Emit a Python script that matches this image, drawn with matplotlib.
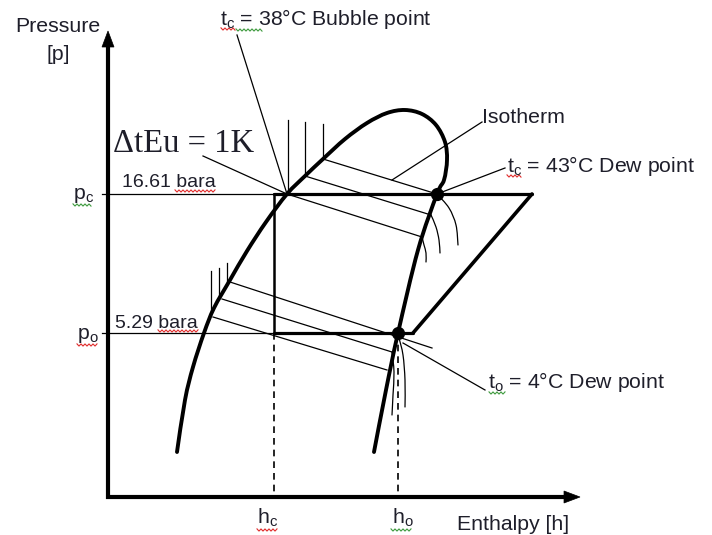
import numpy as np
import matplotlib
matplotlib.use("Agg")
import matplotlib.pyplot as plt
from matplotlib.path import Path
from matplotlib.patches import PathPatch, Polygon

plt.rcParams['font.family'] = ['Liberation Sans', 'DejaVu Sans']
plt.rcParams['mathtext.fontset'] = 'custom'
plt.rcParams['mathtext.rm'] = 'Liberation Sans'
plt.rcParams['mathtext.it'] = 'Liberation Sans:italic'

# ---------------- values of the schematic p-h diagram ----------------
p_c_bar = "16.61"
p_o_bar = "5.29"
t_c_bubble = 38
t_c_dew = 43
t_o_dew = 4
dT_glide = 1

# diagram units (enthalpy to the right, pressure upward; canvas units)
h_axis, p_axis = 108, 497
p_c, p_o = 194, 333
h_c, h_o = 274, 398
h_dew_c, h_bub_c = 437, 287
h_discharge, h_suction = 532, 413

# saturation dome (liquid line -> critical region -> vapour line)
dome_h = [177, 185, 193, 204, 214, 230, 247, 266, 287, 305, 323, 345, 367, 387,
          405, 422, 436, 445, 447, 444, 437, 418, 398, 386, 374]
dome_p = [452, 400, 367, 333, 308, 280, 251, 222, 194, 176, 159, 139, 123, 113,
          110, 114, 125, 142, 160, 180, 194, 250, 333, 390, 452]

# isotherms in the two-phase region (start on liquid line, end on vapour line)
iso_hi_h0 = [323, 305, 287]
iso_hi_p0 = [159, 176, 194]
iso_hi_h1 = [437, 431, 422]
iso_hi_p1 = [194, 215, 237]
# superheated tails of the upper isotherms
tail_hi_h = [[437, 449, 456, 458], [431, 436, 439, 440], [422, 424, 426, 426]]
tail_hi_p = [[194, 208, 225, 245], [215, 227, 240, 253], [237, 245, 253, 262]]

iso_lo_h0 = [230, 222, 213]
iso_lo_p0 = [282, 299, 317]
iso_lo_h1 = [432, 392, 387]
iso_lo_p1 = [348, 352, 370]
tail_lo_h = [[392, 394, 393, 392], [399, 403, 405, 405]]
tail_lo_p = [[352, 372, 395, 415], [338, 355, 380, 407]]

# short vertical hatch marks
hatch_hi_h = [288, 305, 323]
hatch_hi_top = [120, 122, 124]
hatch_hi_bot = [194, 176, 159]
hatch_lo_h = [211, 219, 227]
hatch_lo_top = [271, 268, 263]
hatch_lo_bot = [315, 297, 284]

INK = '#1e1e2a'
RED = '#e02a2a'
GREEN = '#3c9a3c'

fig = plt.figure(figsize=(7.12, 5.35), dpi=100)
ax = fig.add_axes([0, 0, 1, 1])
ax.set_xlim(0, 712)
ax.set_ylim(535, 0)
ax.axis('off')


def smooth(hs, ps):
    pts = np.column_stack([hs, ps]).astype(float)
    ext = np.vstack([pts[0], pts, pts[-1]])
    verts = [tuple(pts[0])]
    codes = [Path.MOVETO]
    for i in range(1, len(ext) - 2):
        p0, p1, p2, p3 = ext[i - 1], ext[i], ext[i + 1], ext[i + 2]
        c1 = p1 + (p2 - p0) / 6.0
        c2 = p2 - (p3 - p1) / 6.0
        verts += [tuple(c1), tuple(c2), tuple(p2)]
        codes += [Path.CURVE4] * 3
    return Path(verts, codes)


def curve(hs, ps, lw, color='black'):
    ax.add_patch(PathPatch(smooth(hs, ps), fill=False, lw=lw, ec=color,
                           capstyle='round', joinstyle='round'))


def squiggle(x0, x1, y, color):
    xs = np.arange(x0, x1 + 0.1, 2.0)
    ys = y + np.where(np.arange(len(xs)) % 2 == 0, -1.1, 1.1)
    ax.plot(xs, ys, color=color, lw=0.8, solid_joinstyle='miter')


THIN = 0.9

# axes with arrows
ax.plot([h_axis, h_axis], [p_axis + 2, 44], color='black', lw=3.0, solid_capstyle='butt')
ax.plot([h_axis - 2, 566], [p_axis, p_axis], color='black', lw=3.0, solid_capstyle='butt')
ax.add_patch(Polygon([[h_axis, 31], [h_axis - 6, 47], [h_axis + 6, 47]], closed=True,
                     fc='black', ec='black', lw=0.5))
ax.add_patch(Polygon([[580, p_axis], [564, p_axis - 6], [564, p_axis + 6]], closed=True,
                     fc='black', ec='black', lw=0.5))

# pressure lines (thin part from axis) and cycle
ax.plot([h_axis - 6, h_c], [p_c, p_c], color='black', lw=THIN)
ax.plot([h_axis - 6, h_c], [p_o, p_o], color='black', lw=THIN)
ax.plot([h_c, h_discharge], [p_c, p_c], color='black', lw=2.3, solid_capstyle='round')
ax.plot([h_c, h_suction], [p_o, p_o], color='black', lw=2.3, solid_capstyle='round')
ax.plot([h_suction, h_discharge], [p_o, p_c], color='black', lw=2.6, solid_capstyle='round')
ax.plot([h_c, h_c], [p_c, p_o], color='black', lw=1.8)
ax.plot([h_c, h_c], [p_o, p_axis], color='black', lw=1.2, ls=(0, (4, 3)))
ax.plot([h_o, h_o], [p_o, p_axis], color='black', lw=1.2, ls=(0, (4, 3)))

# isotherms
for a, b, c, d in zip(iso_hi_h0, iso_hi_p0, iso_hi_h1, iso_hi_p1):
    ax.plot([a, c], [b, d], color='black', lw=THIN)
for hs, ps in zip(tail_hi_h, tail_hi_p):
    curve(hs, ps, THIN)
for a, b, c, d in zip(iso_lo_h0, iso_lo_p0, iso_lo_h1, iso_lo_p1):
    ax.plot([a, c], [b, d], color='black', lw=THIN)
for hs, ps in zip(tail_lo_h, tail_lo_p):
    curve(hs, ps, THIN)

# hatch marks
for h, t, b in zip(hatch_hi_h, hatch_hi_top, hatch_hi_bot):
    ax.plot([h, h], [t, b], color='black', lw=THIN)
for h, t, b in zip(hatch_lo_h, hatch_lo_top, hatch_lo_bot):
    ax.plot([h, h], [t, b], color='black', lw=THIN)

# saturation dome
curve(dome_h, dome_p, 2.8)

# leader lines
ax.plot([237, h_bub_c], [35, p_c], color='black', lw=THIN)
ax.plot([203, h_bub_c], [156, p_c], color='black', lw=THIN)
ax.plot([392, 482], [180, 122], color='black', lw=THIN)
ax.plot([h_dew_c, 505], [p_c, 168], color='black', lw=THIN)
ax.plot([403, 485], [343, 390], color='black', lw=THIN)

# dew points
ax.plot([h_dew_c, h_o], [p_c, p_o], 'o', color='black', ms=8.5)

# texts
FS = 15.3
FSB = 14
ax.text(58, 32, 'Pressure', fontsize=FS, color=INK, ha='center', va='baseline')
ax.text(58, 60, '[p]', fontsize=FS, color=INK, ha='center', va='baseline')
ax.text(220, 25, r'$\mathregular{t_c}$' + f' = {t_c_bubble}°C Bubble point',
        fontsize=FS, color=INK, va='baseline')
ax.text(113, 152, f'ΔtEu = {dT_glide}K', fontsize=23.5, color=INK, va='baseline',
        family=['Liberation Serif', 'DejaVu Serif'])
ax.text(122, 187, f'{p_c_bar} bara', fontsize=FSB, color=INK, va='baseline')
ax.text(115, 328, f'{p_o_bar} bara', fontsize=FSB, color=INK, va='baseline')
ax.text(73, 199, r'$\mathregular{p_c}$', fontsize=FS, color=INK, va='baseline')
ax.text(77, 339, r'$\mathregular{p_o}$', fontsize=FS, color=INK, va='baseline')
ax.text(482, 123, 'Isotherm', fontsize=FS, color=INK, va='baseline')
ax.text(507, 172, r'$\mathregular{t_c}$' + f' = {t_c_dew}°C Dew point',
        fontsize=FS, color=INK, va='baseline')
ax.text(488, 388, r'$\mathregular{t_o}$' + f' = {t_o_dew}°C Dew point',
        fontsize=FS, color=INK, va='baseline')
ax.text(257, 524, r'$\mathregular{h_c}$', fontsize=FS, color=INK, va='baseline')
ax.text(392, 524, r'$\mathregular{h_o}$', fontsize=FS, color=INK, va='baseline')
ax.text(457, 530, 'Enthalpy [h]', fontsize=FS, color=INK, va='baseline')

# spell-check squiggles
squiggle(221, 236, 29, RED)
squiggle(236, 262, 30, GREEN)
squiggle(175, 215, 191, RED)
squiggle(73, 91, 205, GREEN)
squiggle(158, 198, 331, RED)
squiggle(77, 98, 345, RED)
squiggle(507, 522, 176, RED)
squiggle(489, 505, 393, GREEN)
squiggle(257, 277, 530, RED)
squiggle(391, 412, 530, GREEN)

fig.savefig('out.png', dpi=100)
